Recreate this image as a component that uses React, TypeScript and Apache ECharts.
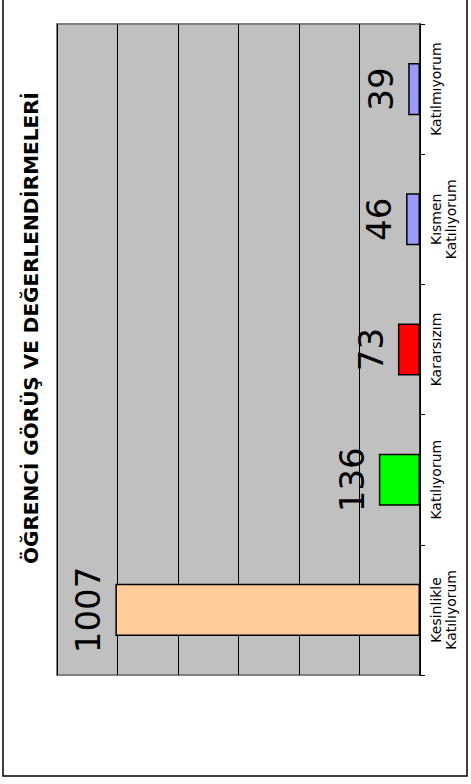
import React, { useEffect, useRef } from "react";
import * as echarts from "echarts";

const categories = [
  "Kesinlikle\nKatılıyorum",
  "Katılıyorum",
  "Kararsızım",
  "Kısmen\nKatılıyorum",
  "Katılmıyorum",
];
const values = [1007, 136, 73, 46, 39];
const barColors = ["#FFCC99", "#00FF00", "#FF0000", "#9999FF", "#9999FF"];
const titleText = "ÖĞRENCİ GÖRÜŞ VE DEĞERLENDİRMELERİ";
const valueMax = 1200;
const valueStep = 200;

export default function App() {
  const ref = useRef<HTMLDivElement>(null);
  useEffect(() => {
    if (!ref.current) return;
    const chart = echarts.init(ref.current, null, { renderer: "svg" });
    chart.setOption({
      animation: false,
      backgroundColor: "#FFFFFF",
      graphic: [
        {
          type: "rect",
          shape: { x: 3, y: -5, width: 464, height: 781 },
          style: { fill: "none", stroke: "#000", lineWidth: 1.5 },
          z: 100,
        },
        {
          type: "text",
          x: 31,
          y: 328,
          rotation: Math.PI / 2,
          style: {
            text: titleText,
            font: "bold 20px 'DejaVu Sans'",
            fill: "#000",
            textAlign: "center",
            textVerticalAlign: "middle",
          },
        },
      ],
      grid: {
        left: 57,
        right: 51,
        top: 24,
        bottom: 109,
        show: true,
        backgroundColor: "#C0C0C0",
        borderColor: "#808080",
        borderWidth: 2,
      },
      xAxis: {
        type: "value",
        inverse: true,
        min: 0,
        max: valueMax,
        interval: valueStep,
        axisLabel: { show: false },
        axisLine: { show: false },
        axisTick: { show: false },
        splitLine: { show: true, lineStyle: { color: "#000", width: 1 } },
      },
      yAxis: {
        type: "category",
        position: "right",
        data: categories,
        axisLine: { show: true, lineStyle: { color: "#000", width: 1.5 } },
        axisTick: { show: true, length: 5, lineStyle: { color: "#000" } },
        axisLabel: {
          rotate: 90,
          margin: 8,
          color: "#000",
          fontFamily: "DejaVu Sans",
          fontSize: 14,
          lineHeight: 15,
          align: "center",
          verticalAlign: "top",
        },
        splitLine: { show: false },
      },
      series: [
        {
          type: "bar",
          barWidth: "40%",
          data: values.map((v, i) => ({
            value: v,
            itemStyle: { color: barColors[i] },
          })),
          itemStyle: { borderColor: "#000", borderWidth: 1.5 },
          label: {
            show: true,
            position: "left",
            rotate: 90,
            distance: 10,
            align: "center",
            verticalAlign: "bottom",
            color: "#000",
            fontFamily: "DejaVu Sans",
            fontSize: 34,
          },
        },
      ],
    });
    return () => chart.dispose();
  }, []);
  return (
    <div
      ref={ref}
      style={{ position: "absolute", left: 0, top: 0, width: 471, height: 784 }}
    />
  );
}
